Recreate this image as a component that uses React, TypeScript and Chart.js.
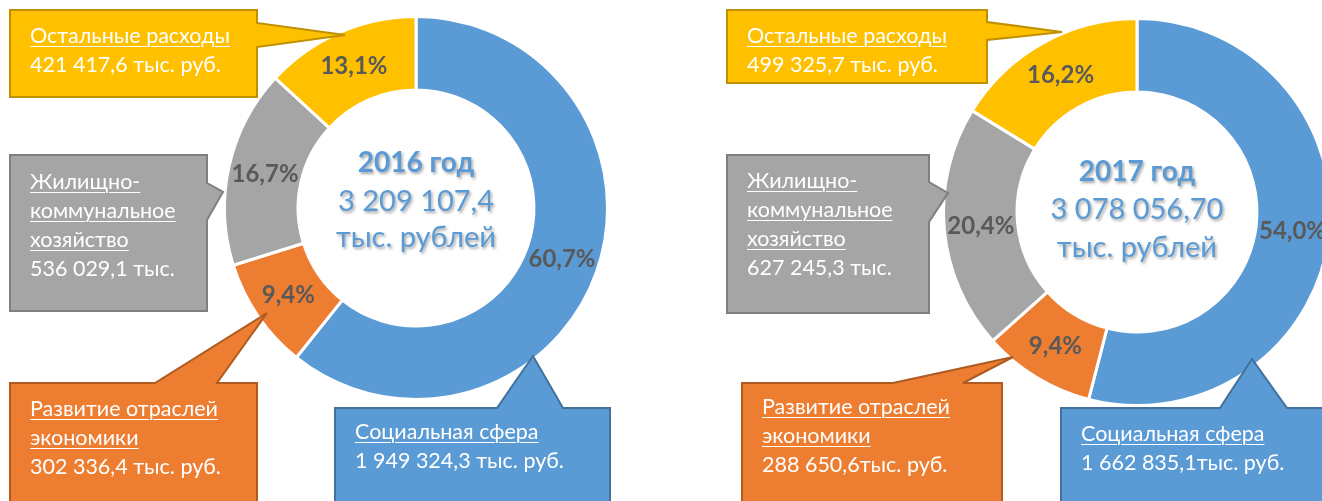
import React, { useEffect, useRef } from 'react';
import { Chart, registerables } from 'chart.js';

Chart.register(...registerables);

// ---------- data ----------
const categories = ['Социальная сфера', 'Развитие отраслей экономики', 'Жилищно-коммунальное хозяйство', 'Остальные расходы'];
const categoryLines = [['Социальная сфера'], ['Развитие отраслей', 'экономики'], ['Жилищно-', 'коммунальное', 'хозяйство'], ['Остальные расходы']];
const years = ['2016 год', '2017 год'];
const totals = ['3 209 107,4', '3 078 056,70'];
const totalUnit = 'тыс. рублей';
const values2016 = [1949324.3, 302336.4, 536029.1, 421417.6];
const values2017 = [1662835.1, 288650.6, 627245.3, 499325.7];
const amountLabels2016 = ['1 949 324,3 тыс. руб.', '302 336,4 тыс. руб.', '536 029,1 тыс.', '421 417,6 тыс. руб.'];
const amountLabels2017 = ['1 662 835,1тыс. руб.', '288 650,6тыс. руб.', '627 245,3 тыс.', '499 325,7 тыс. руб.'];
const sliceColors = ['#5B9BD5', '#ED7D31', '#A5A5A5', '#FFC000'];
const calloutBorders = ['#41719C', '#AE5A21', '#7F7F7F', '#BF9000'];

// ---------- layout ----------
const FONT = 'Lato, "Open Sans", sans-serif';
const CANVAS = 400;

type Callout = { rect: number[]; side: 'top' | 'right'; base: number[]; tip: number[]; text: number[] };
type Panel = {
  values: number[]; amounts: string[]; year: string; total: string;
  cx: number; cy: number; r: number; cutout: string; centerDy: number[]; callouts: Callout[];
};

const panels: Panel[] = [
  {
    values: values2016, amounts: amountLabels2016, year: years[0], total: totals[0],
    cx: 416, cy: 208, r: 191.5, cutout: '61.6%', centerDy: [-45, -6, 30],
    callouts: [
      { rect: [335, 408, 275, 120], side: 'top', base: [497, 563], tip: [533, 356], text: [355, 433] },
      { rect: [10, 383, 247, 140], side: 'top', base: [155, 217], tip: [267, 313], text: [30, 410] },
      { rect: [10, 155, 197, 156], side: 'right', base: [183, 220], tip: [223, 192], text: [30, 183] },
      { rect: [10, 10, 247, 87], side: 'right', base: [23, 47], tip: [345, 35], text: [30, 37] },
    ],
  },
  {
    values: values2017, amounts: amountLabels2017, year: years[1], total: totals[1],
    cx: 1137, cy: 212, r: 193.5, cutout: '62%', centerDy: [-40, -2, 36],
    callouts: [
      { rect: [1061, 408, 300, 120], side: 'top', base: [1220, 1287], tip: [1252, 359], text: [1081, 435] },
      { rect: [742, 383, 260, 140], side: 'top', base: [893, 963], tip: [1013, 357], text: [762, 408] },
      { rect: [727, 155, 202, 158], side: 'right', base: [182, 222], tip: [948, 193], text: [747, 182] },
      { rect: [727, 10, 260, 73], side: 'right', base: [22, 40], tip: [1062, 32], text: [747, 37] },
    ],
  },
];

function calloutPath(c: Callout): string {
  const [x, y, w, h] = c.rect;
  const [b1, b2] = c.base;
  const [tx, ty] = c.tip;
  if (c.side === 'right') {
    return `M${x},${y} L${x + w},${y} L${x + w},${b1} L${tx},${ty} L${x + w},${b2} L${x + w},${y + h} L${x},${y + h} Z`;
  }
  return `M${x},${y} L${b1},${y} L${tx},${ty} L${b2},${y} L${x + w},${y} L${x + w},${y + h} L${x},${y + h} Z`;
}

function makeLabelPlugin(panel: Panel) {
  return {
    id: 'donutLabels',
    afterDatasetsDraw(chart: any) {
      const ctx = chart.ctx as CanvasRenderingContext2D;
      const meta = chart.getDatasetMeta(0);
      const data = chart.data.datasets[0].data as number[];
      const sum = data.reduce((a, b) => a + b, 0);
      ctx.save();
      ctx.textAlign = 'center';
      ctx.textBaseline = 'middle';
      ctx.fillStyle = '#595959';
      ctx.font = `bold 24px ${FONT}`;
      meta.data.forEach((arc: any, i: number) => {
        const p = arc.getCenterPoint();
        const pct = ((data[i] / sum) * 100).toFixed(1).replace('.', ',') + '%';
        ctx.fillText(pct, p.x, p.y);
      });
      const cx = meta.data[0].x;
      const cy = meta.data[0].y;
      ctx.shadowColor = 'rgba(0,0,0,0.35)';
      ctx.shadowOffsetX = 1.5;
      ctx.shadowOffsetY = 1.5;
      ctx.shadowBlur = 3;
      ctx.fillStyle = '#5B9BD5';
      ctx.font = `bold 28px ${FONT}`;
      ctx.fillText(panel.year, cx, cy + panel.centerDy[0]);
      ctx.font = `29px ${FONT}`;
      ctx.fillText(panel.total, cx, cy + panel.centerDy[1]);
      ctx.fillText(totalUnit, cx, cy + panel.centerDy[2]);
      ctx.restore();
    },
  };
}

function Donut({ panel }: { panel: Panel }) {
  const ref = useRef<HTMLCanvasElement>(null);
  useEffect(() => {
    if (!ref.current) return;
    const chart = new Chart(ref.current, {
      type: 'doughnut',
      data: {
        labels: categories,
        datasets: [{ data: panel.values, backgroundColor: sliceColors, borderColor: '#ffffff', borderWidth: 3 }],
      },
      options: {
        responsive: false,
        maintainAspectRatio: false,
        animation: false,
        devicePixelRatio: 1,
        radius: panel.r,
        cutout: panel.cutout,
        events: [],
        layout: { padding: 0 },
        plugins: { legend: { display: false }, tooltip: { enabled: false } },
      } as any,
      plugins: [makeLabelPlugin(panel)],
    });
    return () => chart.destroy();
  }, [panel]);
  return (
    <canvas
      ref={ref}
      width={CANVAS}
      height={CANVAS}
      style={{ position: 'absolute', left: panel.cx - CANVAS / 2, top: panel.cy - CANVAS / 2, width: CANVAS, height: CANVAS }}
    />
  );
}

export default function App() {
  const LINE = 29;
  return (
    <div style={{ position: 'absolute', left: 0, top: 0, width: 1322, height: 501, overflow: 'hidden', background: '#fff', fontFamily: FONT }}>
      {panels.map((p, i) => <Donut key={i} panel={p} />)}
      <svg width={1322} height={501} style={{ position: 'absolute', left: 0, top: 0 }}>
        {panels.map((p, pi) =>
          p.callouts.map((c, ci) => (
            <path key={`${pi}-${ci}`} d={calloutPath(c)} fill={sliceColors[ci]} stroke={calloutBorders[ci]} strokeWidth={2} strokeLinejoin="miter" />
          ))
        )}
      </svg>
      {panels.map((p, pi) =>
        p.callouts.map((c, ci) => (
          <div
            key={`t-${pi}-${ci}`}
            style={{
              position: 'absolute', left: c.text[0], top: c.text[1] - LINE / 2 - 2, color: '#fff',
              fontSize: 21.5, lineHeight: `${LINE}px`, whiteSpace: 'nowrap',
            }}
          >
            {categoryLines[ci].map((ln, k) => (
              <div key={k} style={{ textDecoration: 'underline', textDecorationThickness: '1px', textUnderlineOffset: '3px' }}>{ln}</div>
            ))}
            <div>{p.amounts[ci]}</div>
          </div>
        ))
      )}
    </div>
  );
}
